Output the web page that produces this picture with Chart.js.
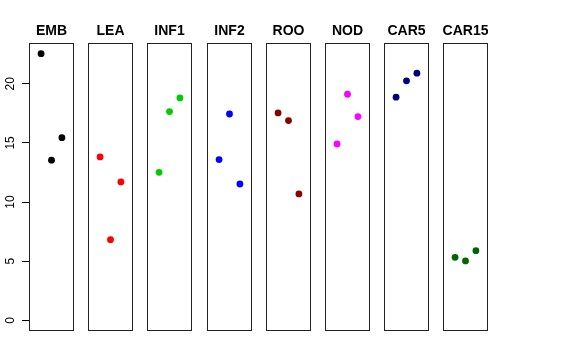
<!DOCTYPE html>
<html>
<head>
<meta charset="utf-8">
<script src="https://cdn.jsdelivr.net/npm/chart.js@4"></script>
<style>
  body { margin: 0; background: #fff; }
  #wrap { position: relative; width: 576px; height: 360px; }
  .panel { position: absolute; top: 0; height: 360px; }
</style>
</head>
<body>
<div id="wrap"></div>
<script>
    "use strict";

    var groups = ["EMB", "LEA", "INF1", "INF2", "ROO", "NOD", "CAR5", "CAR15"];
    var colors = ["#000000", "#FF0000", "#00CD00", "#0000FF", "#8B0000", "#FF00FF", "#000080", "#006400"];

    // three replicate values per group
    var embVals  = [22.55, 13.54, 15.45];
    var leaVals  = [13.82, 6.82, 11.70];
    var inf1Vals = [12.52, 17.65, 18.81];
    var inf2Vals = [13.59, 17.45, 11.53];
    var rooVals  = [17.54, 16.89, 10.69];
    var nodVals  = [14.92, 19.12, 17.23];
    var car5Vals = [18.87, 20.25, 20.90];
    var car15Vals = [5.33, 5.02, 5.89];

    var yTicks = [0, 5, 10, 15, 20];

    var allVals = [embVals, leaVals, inf1Vals, inf2Vals, rooVals, nodVals, car5Vals, car15Vals];

    // R style axis range: ylim = c(0, max), xlim = c(0, 4), each stretched by 4%
    var yMax = Math.max.apply(null, [].concat.apply([], allVals));
    var yPad = yMax * 0.04;
    var xPad = 4 * 0.04;

    var fontFamily = "'Liberation Sans', Arial, sans-serif";

    // box round the plot area plus the bold panel title above it
    var boxPlugin = {
        id: "panelBox",
        afterDraw: function (chart) {
            var a = chart.chartArea;
            var c = chart.ctx;
            c.save();
            c.strokeStyle = "#222";
            c.lineWidth = 1;
            c.strokeRect(Math.round(a.left) + 0.5, Math.round(a.top) + 0.5,
                Math.round(a.right - a.left) - 1, Math.round(a.bottom - a.top) - 1);
            c.fillStyle = "#000";
            c.font = "bold 14px " + fontFamily;
            c.textAlign = "center";
            c.textBaseline = "alphabetic";
            c.fillText(chart.data.datasets[0].label, (a.left + a.right) / 2, 35);
            c.restore();
        }
    };

    var yLabelPlugin = {
        id: "yLabels",
        afterDraw: function (chart) {
            var s = chart.scales.y;
            if (!s.options.display) return;
            var c = chart.ctx;
            c.save();
            c.fillStyle = "#000";
            c.font = "12px " + fontFamily;
            c.textAlign = "center";
            c.textBaseline = "alphabetic";
            s.ticks.forEach(function (t) {
                var py = s.getPixelForValue(t.value);
                c.save();
                c.translate(14, py);
                c.rotate(-Math.PI / 2);
                c.fillText(String(t.value), 0, 0);
                c.restore();
            });
            c.restore();
        }
    };

    var wrap = document.getElementById("wrap");
    var axisW = 29;
    var panelW = 45;
    var pitch = 59.2;

    groups.forEach(function (name, i) {
        var first = (i === 0);
        var left = Math.round(axisW + i * pitch);
        var div = document.createElement("div");
        div.className = "panel";
        div.style.left = (first ? 0 : left) + "px";
        div.style.width = (first ? axisW + panelW : panelW) + "px";
        var canvas = document.createElement("canvas");
        div.appendChild(canvas);
        wrap.appendChild(div);

        var pts = allVals[i].map(function (v, j) {
            return { x: j + 1, y: v };
        });

        new Chart(canvas.getContext("2d"), {
            type: "scatter",
            data: {
                datasets: [{
                    label: name,
                    data: pts,
                    backgroundColor: colors[i],
                    borderColor: colors[i],
                    pointRadius: 3.4,
                    pointBorderWidth: 0
                }]
            },
            options: {
                responsive: true,
                maintainAspectRatio: false,
                animation: false,
                events: [],
                layout: {
                    autoPadding: false,
                    padding: { top: 43, bottom: 29, left: 0, right: 0 }
                },
                plugins: {
                    legend: { display: false },
                    tooltip: { enabled: false },
                    title: { display: false }
                },
                scales: {
                    x: {
                        type: "linear",
                        display: false,
                        min: -xPad,
                        max: 4 + xPad
                    },
                    y: {
                        display: first,
                        min: -yPad,
                        max: yMax + yPad,
                        afterFit: function (s) { s.width = first ? axisW : 0; },
                        border: { display: false },
                        grid: {
                            drawOnChartArea: false,
                            drawTicks: true,
                            tickLength: 7,
                            color: "#000"
                        },
                        afterBuildTicks: function (s) {
                            s.ticks = yTicks.map(function (v) { return { value: v }; });
                        },
                        ticks: {
                            color: "rgba(0,0,0,0)",
                            font: { size: 12, family: fontFamily },
                            padding: 0
                        }
                    }
                }
            },
            plugins: [boxPlugin, yLabelPlugin]
        });
    });
</script>
</body>
</html>
